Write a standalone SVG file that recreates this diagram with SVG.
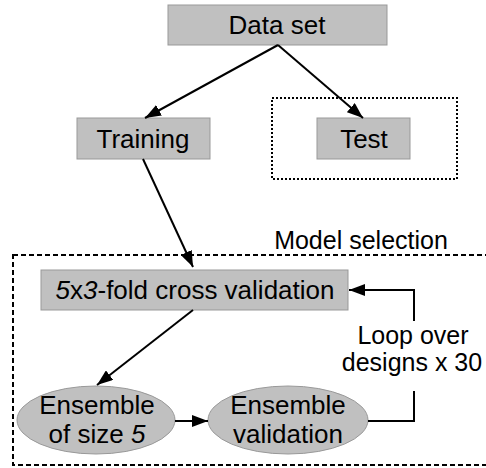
<svg xmlns="http://www.w3.org/2000/svg" width="486" height="468" viewBox="0 0 486 468">
<style>
.box{fill:#c0c0c0;stroke:#999;stroke-width:1}
.t{font-family:"Liberation Sans",Arial,sans-serif;font-size:26px;fill:#000;text-anchor:middle}
.s{font-size:25px}
.c{stroke:#000;stroke-width:2;fill:none}
</style>
<defs>
<marker id="ah" viewBox="0 0 16 12" refX="16" refY="6" markerWidth="16" markerHeight="12" markerUnits="userSpaceOnUse" orient="auto">
<path d="M0,0 L16,6 L0,12 Z" fill="#000"/>
</marker>
</defs>
<rect x="272" y="98" width="185" height="81" fill="none" stroke="#000" stroke-width="2" stroke-dasharray="2,2"/>
<rect x="13" y="255" width="480" height="210" fill="none" stroke="#000" stroke-width="2" stroke-dasharray="5,3"/>
<text class="t s" x="361" y="249">Model selection</text>
<g id="dataset"><rect class="box" x="168" y="5" width="219" height="40"/><text class="t" x="277" y="34">Data set</text></g>
<g id="training"><rect class="box" x="77" y="118" width="133" height="41"/><text class="t" x="143" y="148">Training</text></g>
<g id="test"><rect class="box" x="317" y="118" width="93" height="41"/><text class="t" x="364" y="148">Test</text></g>
<g id="cv"><rect class="box" x="41" y="270" width="307" height="40"/><text class="t" x="195" y="299"><tspan font-style="italic">5</tspan>x<tspan font-style="italic">3</tspan>-fold cross validation</text></g>
<g id="ens"><ellipse class="box" cx="96" cy="420" rx="79" ry="34"/><text class="t" x="97" y="414">Ensemble</text><text class="t" x="97" y="443">of size <tspan font-style="italic">5</tspan></text></g>
<g id="ensval"><ellipse class="box" cx="288" cy="420" rx="80" ry="34"/><text class="t" x="288" y="414">Ensemble</text><text class="t" x="288" y="443">validation</text></g>
<g id="loop"><text class="t s" x="413" y="344">Loop over</text><text class="t s" x="412" y="371">designs x 30</text></g>
<g id="connectors">
<line class="c" x1="278" y1="45" x2="145" y2="118" marker-end="url(#ah)"/>
<line class="c" x1="278" y1="45" x2="363" y2="118" marker-end="url(#ah)"/>
<line class="c" x1="143" y1="159" x2="193" y2="267" marker-end="url(#ah)"/>
<line class="c" x1="193" y1="310" x2="97" y2="385" marker-end="url(#ah)"/>
<line class="c" x1="175" y1="421" x2="208" y2="421" marker-end="url(#ah)"/>
<polyline class="c" points="368,421 414,421 414,391"/>
<polyline class="c" points="414,321 414,290 349,290" marker-end="url(#ah)"/>
</g>
</svg>
